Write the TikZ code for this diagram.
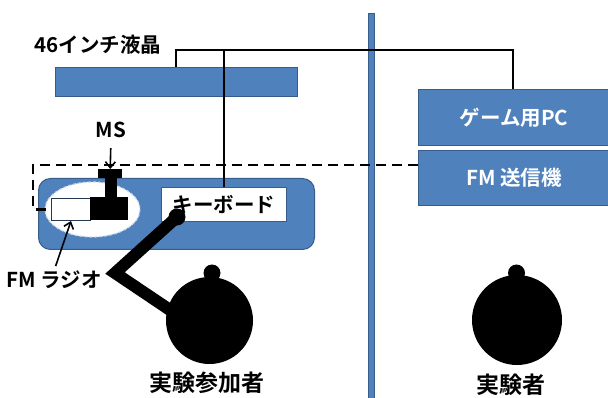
\documentclass[tikz,border=0pt]{standalone}
\usepackage{fontspec}
\setmainfont{Noto Sans CJK JP}[UprightFont=* Bold]
\usetikzlibrary{arrows.meta}
\definecolor{panel}{HTML}{4F81BD}
\definecolor{panelEdge}{HTML}{385D8A}
\newcommand{\labelsize}{\fontsize{20.5}{20.5}\selectfont}
\newcommand{\personsize}{\fontsize{23}{23}\selectfont}
\tikzset{
  blue box/.style={fill=panel, draw=panelEdge, line width=1pt, inner sep=0pt, anchor=north west},
  white box/.style={fill=white, draw=panelEdge, line width=1pt, inner sep=0pt, anchor=north west},
  ink box/.style={fill=black, draw=none, inner sep=0pt, anchor=north west},
  label text/.style={font=\labelsize, text=black, inner sep=0pt},
  person text/.style={font=\personsize, text=black, inner sep=0pt},
  wire/.style={line width=2pt},
  pointer/.style={line width=1.6pt, -{Straight Barb[length=6pt,width=10pt]}},
  link/.style={dash pattern=on 10pt off 6pt, line width=2.6pt},
  limb/.style={line width=12pt, line join=miter}
}
\begin{document}
\begin{tikzpicture}[x=1pt,y=-1pt]
\useasboundingbox (0,0) rectangle (608,398);

% partition between the two rooms
\path[fill=panel, draw=panelEdge, line width=0.8pt] (368,13) rectangle (374,402);

% display, PC and transmitter
\node[blue box, minimum width=242pt, minimum height=29pt] (monitor) at (55,67) {};
\node[blue box, minimum width=191pt, minimum height=56pt, text=white,
      font=\labelsize] (pc) at (418,89) {ゲーム用PC};
\node[blue box, minimum width=191pt, minimum height=55pt, text=white,
      font=\labelsize] (tx) at (418,150) {FM 送信機};

% desk with radio and keyboard
\node[blue box, rounded corners=12pt, minimum width=276pt, minimum height=71pt] (desk) at (38,178) {};
\path[fill=white, draw=panel!30!white, line width=1.2pt, dash pattern=on 3pt off 2pt]
  (92.5,209.5) ellipse [x radius=47.5, y radius=27.5];
\node[white box, draw=panelEdge!60!black, minimum width=39pt, minimum height=22pt] (radio) at (51,198) {};
\node[ink box, minimum width=38pt, minimum height=23pt] (tuner) at (90,197) {};
\node[ink box, minimum width=12pt, minimum height=20pt] (stem) at (105,178) {};
\node[ink box, minimum width=24pt, minimum height=9pt] (knob) at (98,169) {};
\node[white box, minimum width=125pt, minimum height=34pt,
      font=\labelsize] (kbd) at (161,187) {キーボード};

% participant
\coordinate (elbow) at (115,273);
\coordinate (shoulder) at (173,312);
\fill (209.5,320.5) circle (43.5);
\fill (212,273) circle (8.5);
\fill (177,217) circle (8.5) coordinate (hand);
\draw[limb] (hand) -- (elbow) -- (shoulder);

% experimenter
\fill (517,320) circle (45);
\fill (516.5,273) circle (8.5);

% labels
\node[label text] (lcdlabel) at (98,45) {46インチ液晶};
\node[label text] (mslabel) at (111,130) {MS};
\node[label text] (radiolabel) at (54,280) {FM ラジオ};
\node[person text] (plabel) at (207,383) {実験参加者};
\node[person text] (elabel) at (511,385) {実験者};

% cabling
\coordinate (tap) at (176,0);
\coordinate (busR) at (513,50);
\draw[wire] (monitor.north -| tap) |- (busR) -- (busR |- pc.north);
\draw[wire] (kbd.north) -- (kbd.north |- busR);

% radio link
\coordinate (dcorner) at (33,165);
\draw[link] (tx.west |- dcorner) -- (dcorner) |- (radio.west);

% pointers
\draw[pointer, shorten <=10pt] (mslabel.south) -- (knob.north);
\draw[pointer, shorten <=5pt] (radiolabel.north) -- (radio.south);
\end{tikzpicture}
\end{document}
